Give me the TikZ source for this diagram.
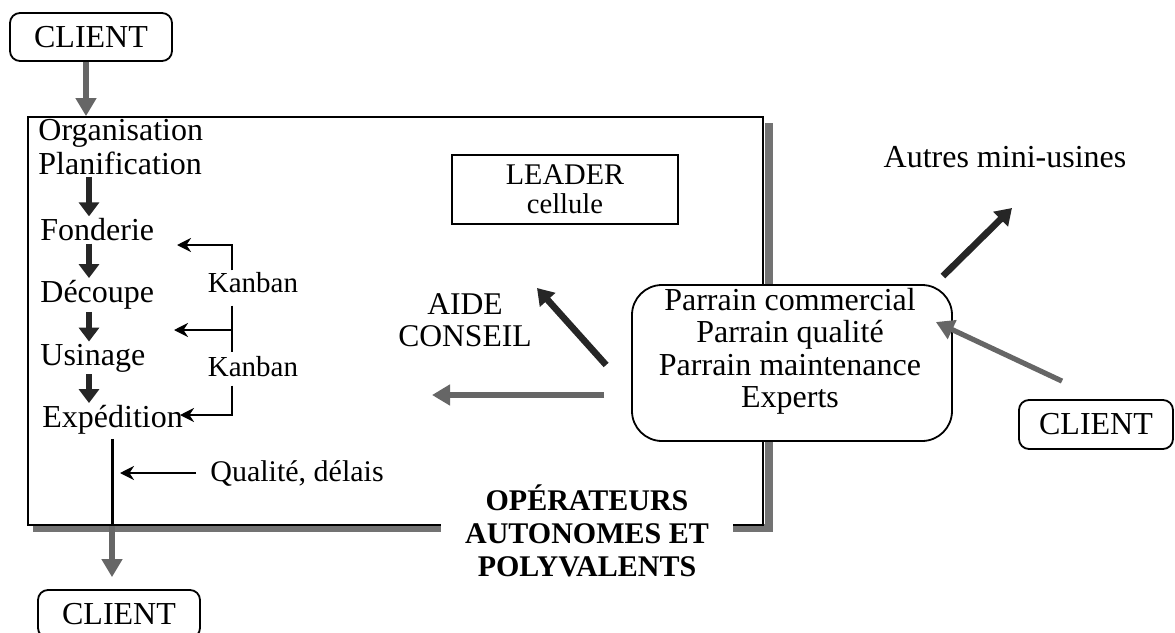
\documentclass[tikz,border=0pt]{standalone}
\usepackage{fontspec}
\setmainfont{Liberation Serif}
\usetikzlibrary{arrows.meta}

\begin{document}
\begin{tikzpicture}[x=0.5pt,y=-0.5pt,
    txt/.style={font=\fontsize{16}{16.25}\selectfont, inner sep=0pt},
    clientbox/.style={draw, line width=0.9pt, rounded corners=5pt, minimum width=81pt, minimum height=24pt, inner sep=0pt, font=\fontsize{16}{18}\selectfont},
    grayarr/.style={line width=2.6pt, draw=black!60, fill=black!60, -{Triangle[length=9pt,width=10pt]}},
    darkarr/.style={line width=3.3pt, draw=black!85, fill=black!85, -{Triangle[length=8pt,width=10pt]}},
    flowarr/.style={line width=2.7pt, draw=black!85, -{Triangle[length=7pt,width=10pt]}},
    kanarr/.style={line width=1.3pt, -{Stealth[length=7pt,width=7pt]}},
    bar/.style={line width=3.8pt, draw=black!55}]

    \useasboundingbox (0,0) rectangle (1175,633);

    % mini-usine frame with its shadow
    \draw[bar] (33,528) -- (443,528);
    \draw[bar] (769,123) -- (769,528) -- (732,528);
    \node[draw, line width=0.9pt, minimum width=367.5pt, minimum height=204pt] (usine) at (395.5,321) {};

    % clients
    \node[clientbox] (c1) at (91,37) {CLIENT};
    \node[clientbox] (c2) at (119,614) {CLIENT};
    \node[clientbox, minimum width=77pt, minimum height=24.5pt] (c3) at (1096,424.5) {CLIENT};

    % flow of the cell
    \node[txt, anchor=west] (org) at (38,133) {Organisation};
    \node[txt, anchor=west] (plan) at (38,163) {Planification};
    \node[txt, anchor=west] (fond) at (40,230) {Fonderie};
    \node[txt, anchor=west] (dec) at (40,295) {Découpe};
    \node[txt, anchor=west] (usi) at (40,358) {Usinage};
    \node[txt, anchor=west] (exp) at (42,420) {Expédition};

    \coordinate (ax) at (89,0);
    \foreach \a/\b in {plan/fond, fond/dec, dec/usi, usi/exp}
      \draw[flowarr] ([yshift=-1pt]\a.south -| ax) -- ([yshift=1pt]\b.north -| ax);

    \draw[grayarr] (c1.south -| 86,0) -- (usine.north -| 86,0);

    % kanban loops
    \node[txt, font=\fontsize{14.5}{16}\selectfont] (kb1) at (253,283) {Kanban};
    \node[txt, font=\fontsize{14.5}{16}\selectfont] (kb2) at (253,367) {Kanban};
    \coordinate (kx) at (232,0);
    \coordinate (k1tip) at (177,245);
    \coordinate (k2tip) at (174,330);
    \coordinate (k3tip) at (180,415);
    \draw[kanarr] ([yshift=1pt]kb1.north -| kx) |- (k1tip);
    \draw[line width=1.3pt] ([yshift=-6pt]kb1.south -| kx) -- ([yshift=2pt]kb2.north -| kx);
    \draw[kanarr] (k2tip -| kx) -- (k2tip);
    \draw[kanarr] ([yshift=-4pt]kb2.south -| kx) |- (k3tip);

    % shipping to the client
    \coordinate (qx) at (112,0);
    \draw[line width=1.5pt] ([yshift=-2pt]exp.south -| qx) -- (usine.south -| qx);
    \draw[grayarr] (usine.south -| qx) -- ([yshift=6pt]c2.north -| qx);
    \node[txt, anchor=west, font=\fontsize{15}{16}\selectfont] (qual) at (210,473) {Qualité, délais};
    \draw[kanarr] ([xshift=-7pt]qual.west) -- ([xshift=4pt]qual.west -| qx);

    \node[font=\bfseries\fontsize{15}{16.5}\selectfont, align=center, fill=white, inner xsep=12pt, inner ysep=0pt] (oper) at (587,531) {OPÉRATEURS\\AUTONOMES ET\\POLYVALENTS};

    % leader
    \node[draw, line width=0.9pt, minimum width=113pt, minimum height=34.5pt, align=center, font=\fontsize{15}{14.5}\selectfont] (lead) at (565,189.5) {LEADER\\{\fontsize{14.3}{14}\selectfont cellule}};

    % support
    \node[draw, line width=0.9pt, fill=white, rounded corners=15pt, minimum width=160pt, minimum height=78pt] (parr) at (792,363) {};
    \node[txt, align=center] (parrtxt) at (790,351.5) {Parrain commercial\\Parrain qualité\\Parrain maintenance\\Experts};

    \node[txt, align=center, font=\fontsize{15.8}{16}\selectfont] (aide) at (465,320) {AIDE\\CONSEIL};
    \coordinate (aidtip) at (537,288);
    \coordinate (ctip) at (432,395);
    \draw[darkarr] ([xshift=-12.5pt,yshift=-1pt]parr.west) -- (aidtip);
    \draw[grayarr] ([xshift=-13.5pt,yshift=-16pt]parr.west) -- (ctip);

    \node[txt, font=\fontsize{16}{16}\selectfont] (autres) at (1005,157) {Autres mini-usines};
    \coordinate (autip) at (1012,208);
    \draw[darkarr] ([xshift=-5pt,yshift=4pt]parr.north east) -- (autip);
    \draw[grayarr] ([xshift=-17pt,yshift=9pt]c3.north) -- ([xshift=-8.5pt,yshift=20.5pt]parr.east);

\end{tikzpicture}
\end{document}
